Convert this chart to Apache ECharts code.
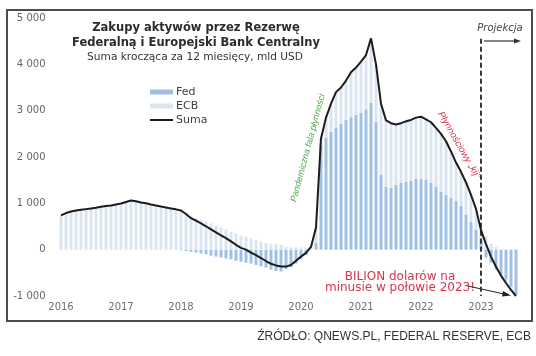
<!DOCTYPE html>
<html><head><meta charset="utf-8">
<script src="https://cdn.jsdelivr.net/npm/echarts@6/dist/echarts.min.js"></script>
<style>html,body{margin:0;padding:0;background:#fff}#c{width:536px;height:356px}</style>
</head><body><div id="c"></div>
<script>
const years = ['2016','2017','2018','2019','2020','2021','2022','2023'];
const months = [];
for (let y = 0; y < years.length; y++) {
  for (let m = 1; m <= 12; m++) {
    if (months.length < 92) months.push(years[y] + '-' + String(m).padStart(2, '0'));
  }
}
// 12-month rolling asset purchases, bn USD
const fed = [
  0,0,0,0,0,0,0,0,0,0,0,0,
  0,0,0,0,0,0,0,0,0,0,0,0,
  -15,-30,-45,-60,-80,-100,-130,-150,-170,-190,-210,-240,
  -260,-280,-300,-330,-360,-390,-430,-460,-470,-420,-380,-300,
  -200,-120,0,150,2250,2420,2540,2640,2720,2800,2860,2910,
  2950,3030,3170,2760,1620,1360,1340,1400,1450,1470,1490,1530,
  1530,1510,1450,1360,1250,1180,1120,1050,950,760,600,430,
  260,-170,-280,-430,-540,-650,-800,-970
];
const ecb = [
  740,790,825,845,860,875,890,905,925,940,955,975,
  995,1030,1060,1045,1020,1000,975,955,930,910,890,870,
  860,800,725,685,645,605,570,525,480,440,390,345,
  300,280,235,210,180,145,125,120,105,55,50,60,
  50,50,60,330,150,430,610,760,780,850,970,1020,
  1110,1170,1390,1240,1530,1430,1390,1300,1280,1300,1310,1320,
  1340,1300,1300,1270,1250,1160,1000,830,730,690,580,450,
  160,290,130,60,-20,-70,-70,-30
];
const suma = [
  740,790,825,845,860,875,890,905,925,940,955,975,
  995,1030,1060,1045,1020,1000,975,955,930,910,890,870,
  845,770,680,625,565,505,440,375,310,250,180,105,
  40,0,-65,-120,-180,-245,-305,-340,-365,-365,-330,-240,
  -150,-70,60,480,2400,2850,3150,3400,3500,3650,3830,3930,
  4060,4200,4560,4000,3150,2790,2730,2700,2730,2770,2800,2850,
  2870,2810,2750,2630,2500,2340,2120,1880,1680,1450,1180,880,
  420,120,-150,-370,-560,-720,-870,-1000
];
const yMin = -1000, yMax = 5000, yStep = 1000;
const projectionStart = '2023-01';

const FONT = 'DejaVu Sans';
const chart = echarts.init(document.getElementById('c'), null, {renderer: 'canvas'});
chart.setOption({
  animation: false,
  backgroundColor: '#fff',
  grid: {left: 58.5, right: 17.5, top: 18, bottom: 60},
  legend: {
    orient: 'vertical', left: 150, top: 86, padding: 0,
    itemWidth: 23, itemHeight: 5, itemGap: 2,
    textStyle: {fontFamily: FONT, fontSize: 11, color: '#404040', lineHeight: 12, padding: [0,0,0,-2]},
    data: [
      {name: 'Fed', icon: 'rect'},
      {name: 'ECB', icon: 'rect'},
      {name: 'Suma', icon: 'path://M0,0H23V2H0Z', itemStyle: {color: '#1c1c1c'}}
    ]
  },
  xAxis: {
    type: 'category', data: months, boundaryGap: true,
    axisLine: {show: false}, axisTick: {show: false},
    axisLabel: {
      interval: (i) => i % 12 === 0, margin: 6,
      formatter: (v, i) => years[Math.floor(i / 12)],
      fontFamily: FONT, fontSize: 10, color: '#707070'
    }
  },
  yAxis: {
    type: 'value', min: yMin, max: yMax, interval: yStep,
    splitLine: {show: false}, axisLine: {show: false}, axisTick: {show: false},
    axisLabel: {
      margin: 13, fontFamily: FONT, fontSize: 10, color: '#666',
      formatter: (v) => { const s = String(Math.abs(v)); const t = s.length > 3 ? s.slice(0, s.length - 3) + ' ' + s.slice(-3) : s; return (v < 0 ? '-' : '') + t; }
    }
  },
  series: [
    {name: 'Fed', type: 'bar', stack: 'a', data: fed, barCategoryGap: '40%', itemStyle: {color: '#9fc0e2'}},
    {name: 'ECB', type: 'bar', stack: 'a', data: ecb, barCategoryGap: '40%', itemStyle: {color: '#dbe5f2'}},
    {name: 'Suma', type: 'line', data: suma, symbol: 'none', showSymbol: false, clip: false, z: 5,
      lineStyle: {color: '#1c1c1c', width: 2},
      itemStyle: {color: '#1c1c1c'},
      markLine: {
        silent: true, symbol: ['none', 'none'], label: {show: false}, animation: false,
        lineStyle: {type: [5, 3], color: '#3a3a3a', width: 2},
        data: [[{xAxis: projectionStart, yAxis: 4550}, {xAxis: projectionStart, yAxis: yMin}]]
      }
    }
  ],
  graphic: [
    {type: 'rect', shape: {x: 7, y: 10, width: 525, height: 311}, style: {fill: 'none', stroke: '#4d4d4d', lineWidth: 2}, z: 100},
    {type: 'text', x: 196, y: 28, style: {text: 'Zakupy aktywów przez Rezerwę', font: 'bold 11.5px "DejaVu Sans"', fill: '#2b2b2b', textAlign: 'center', textVerticalAlign: 'middle'}},
    {type: 'text', x: 196, y: 43, style: {text: 'Federalną i Europejski Bank Centralny', font: 'bold 11.5px "DejaVu Sans"', fill: '#2b2b2b', textAlign: 'center', textVerticalAlign: 'middle'}},
    {type: 'text', x: 195, y: 57, style: {text: 'Suma krocząca za 12 miesięcy, mld USD', font: '10.6px "DejaVu Sans"', fill: '#333', textAlign: 'center', textVerticalAlign: 'middle'}},
    {type: 'text', x: 500, y: 28, style: {text: 'Projekcja', font: 'italic 10px "DejaVu Sans"', fill: '#444', textAlign: 'center', textVerticalAlign: 'middle'}},
    {type: 'line', shape: {x1: 484, y1: 41, x2: 516, y2: 41}, style: {stroke: '#333', lineWidth: 1.2}},
    {type: 'polygon', shape: {points: [[521, 41], [514, 38.5], [514, 43.5]]}, style: {fill: '#333'}},
    {type: 'text', x: 308, y: 148, rotation: 75 * Math.PI / 180, style: {text: 'Pandemiczna fala płynności', font: 'italic 9px "Liberation Sans"', fill: '#4fa84f', textAlign: 'center', textVerticalAlign: 'middle'}},
    {type: 'text', x: 459, y: 145, rotation: -60 * Math.PI / 180, style: {text: 'Płynnościowy „kij”', font: 'italic 9.5px "Liberation Sans"', fill: '#e0304f', textAlign: 'center', textVerticalAlign: 'middle'}},
    {type: 'text', x: 400, y: 282, style: {text: 'BILION dolarów na\nminusie w połowie 2023!', font: '12px "DejaVu Sans"', lineHeight: 11, fill: '#d9344f', textAlign: 'center', textVerticalAlign: 'middle'}},
    {type: 'line', shape: {x1: 468, y1: 286, x2: 504, y2: 294}, style: {stroke: '#222', lineWidth: 1}},
    {type: 'polygon', shape: {points: [[511, 295.5], [503, 291], [502, 296.5]]}, style: {fill: '#222'}},
    {type: 'text', x: 531, y: 337, style: {text: 'ŹRÓDŁO: QNEWS.PL, FEDERAL RESERVE, ECB', font: '12px "Liberation Sans"', fill: '#333', textAlign: 'right', textVerticalAlign: 'middle'}}
  ]
});
</script>
</body></html>
